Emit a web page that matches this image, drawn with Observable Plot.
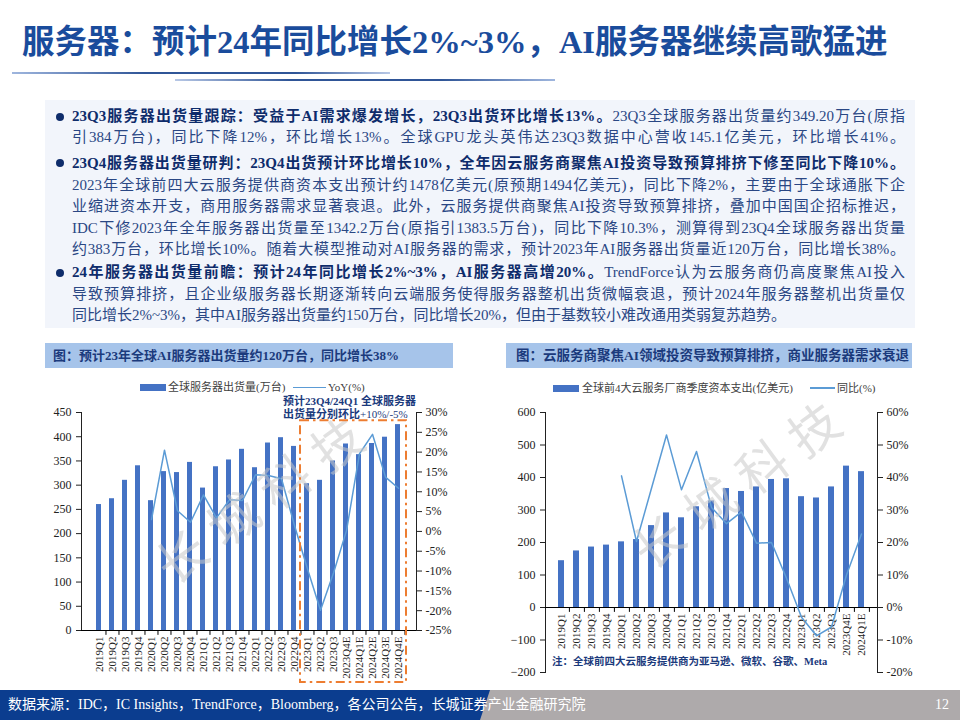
<!DOCTYPE html>
<html><head><meta charset="utf-8">
<script src="https://cdn.jsdelivr.net/npm/d3@7"></script>
<script src="https://cdn.jsdelivr.net/npm/@observablehq/plot@0.6"></script>
<style>
body{margin:0;width:960px;height:720px;position:relative;overflow:hidden;background:#fff;font-family:"Liberation Serif","Noto Sans CJK SC",serif;}
.abs{position:absolute;}
#title{left:22px;top:20px;font-size:32.5px;font-weight:700;color:#1a4c9c;white-space:nowrap;line-height:44px;}
.hl{height:2px;}
#box{left:45px;top:100px;width:870px;height:228px;background:#f2f5fb;}
.ln{position:absolute;left:72px;width:833px;font-size:15px;line-height:21px;height:21px;color:#2a4784;text-align:justify;text-align-last:justify;}
.ln b{color:#0e2c6b;}
.dot{position:absolute;left:56px;width:8px;height:8px;border-radius:50%;background:#0e2c6b;}
.ctitle{height:25px;background:#a6c4ea;font-size:13px;font-weight:700;color:#1b3a7c;line-height:25px;white-space:nowrap;box-sizing:border-box;}
.leg{font-size:11px;color:#404040;white-space:nowrap;line-height:14px;}
.wm{font-family:"Noto Sans CJK SC";font-size:50px;color:rgba(200,200,200,0.55);letter-spacing:14px;white-space:nowrap;transform:rotate(-36deg);transform-origin:center;pointer-events:none;}
</style></head>
<body>
<div id="title" class="abs">服务器：预计24年同比增长2%~3%，AI服务器继续高歌猛进</div>
<div class="abs hl" style="left:12px;top:72px;width:378px;background:linear-gradient(to right,#9fb6de,#2f5597 35%,#2f5597 75%,#b8c8e6);"></div>
<div class="abs hl" style="left:175px;top:79px;width:380px;background:linear-gradient(to right,#b8c8e6,#2f5597 30%,#2f5597 70%,#9fb6de);"></div>

<div id="box" class="abs"></div>
<div id="textlines"></div>

<div class="abs ctitle" style="left:45px;top:343px;width:408px;padding-left:8px;">图：预计23年全球AI服务器出货量约120万台，同比增长38%</div>
<div class="abs ctitle" style="left:506px;top:343px;width:406px;padding-left:10px;font-size:13.5px;">图：云服务商聚焦AI领域投资导致预算排挤，商业服务器需求衰退</div>

<div class="abs" style="left:140px;top:384px;width:26px;height:7px;background:#4472c4;"></div>
<div class="abs leg" style="left:168px;top:380px;">全球服务器出货量(万台)</div>
<div class="abs" style="left:293px;top:386.5px;width:33px;height:1.5px;background:#5b9bd5;"></div>
<div class="abs leg" style="left:328px;top:380px;">YoY(%)</div>

<div class="abs" style="left:553px;top:384.5px;width:26px;height:7px;background:#4472c4;"></div>
<div class="abs leg" style="left:582px;top:381px;">全球前4大云服务厂商季度资本支出(亿美元)</div>
<div class="abs" style="left:810px;top:387px;width:25px;height:1.5px;background:#5b9bd5;"></div>
<div class="abs leg" style="left:837px;top:381px;">同比(%)</div>

<div id="c1bar" class="abs" style="left:30px;top:400px;"></div>
<div id="c1line" class="abs" style="left:30px;top:400px;"></div>
<div id="c2bar" class="abs" style="left:495px;top:400px;"></div>
<div id="c2line" class="abs" style="left:495px;top:400px;"></div>

<div class="abs" style="left:283px;top:395px;font-size:11px;font-weight:700;color:#1b3a7c;line-height:12.5px;white-space:nowrap;">预计23Q4/24Q1 全球服务器<br>出货量分别环比<span style="font-weight:400;">+10%/-5%</span></div>
<div class="abs" style="left:552px;top:655px;font-size:10.5px;font-weight:700;color:#1b3a7c;white-space:nowrap;line-height:14px;">注：全球前四大云服务提供商为亚马逊、微软、谷歌、Meta</div>

<div class="abs wm" style="left:135px;top:458px;">长城科技</div>
<div class="abs wm" style="left:612px;top:443px;">长城科技</div>

<svg id="anno" class="abs" style="left:0;top:0;pointer-events:none;" width="960" height="720"></svg>

<div class="abs" style="left:0;top:690px;width:960px;height:30px;background:#aeaaab;"></div>
<div class="abs" style="left:0;top:690px;width:960px;height:30px;background:#0b3d8f;clip-path:polygon(0 0,490px 0,480px 100%,0 100%);"></div>
<div class="abs" style="left:8px;top:690px;line-height:30px;font-size:14px;color:#fff;white-space:nowrap;">数据来源：IDC，IC Insights，TrendForce，Bloomberg，各公司公告，长城证券产业金融研究院</div>
<div class="abs" style="left:935px;top:690px;line-height:30px;font-size:14px;color:#fff;">12</div>

<script>
// ---------- data ----------
const shipCats = ["2019Q1","2019Q2","2019Q3","2019Q4","2020Q1","2020Q2","2020Q3","2020Q4","2021Q1","2021Q2","2021Q3","2021Q4","2022Q1","2022Q2","2022Q3","2022Q4","2023Q1","2023Q2","2023Q3","2023Q4E","2024Q1E","2024Q2E","2024Q3E","2024Q4E"];
const shipments = [260,272,310,340,268,328,326,347,294,338,352,374,336,387,398,380,303,310,350,385,363,386,399,425];
const shipYoY = [null,null,null,null,3.0,20.5,5.2,2.3,9.2,3.4,8.0,7.8,14.3,14.1,13.3,1.5,-9.5,-19.9,-10.5,0.2,19.6,24.5,13.7,10.9];
const shipTicks = [0,50,100,150,200,250,300,350,400,450];
const shipPctTicks = [-25,-20,-15,-10,-5,0,5,10,15,20,25,30];

const capexCats = ["2019Q1","2019Q2","2019Q3","2019Q4","2020Q1","2020Q2","2020Q3","2020Q4","2021Q1","2021Q2","2021Q3","2021Q4","2022Q1","2022Q2","2022Q3","2022Q4","2023Q1","2023Q2","2023Q3","2023Q4E","2024Q1E"];
const capex = [144,174,186,192,202,209,252,291,276,310,328,366,357,371,394,396,341,337,371,435,418];
const capexYoY = [null,null,null,null,40.5,20.3,36.7,53.1,36.2,48.0,30.8,25.8,29.4,19.8,20.0,9.0,-3.0,-8.7,-6.0,10.0,22.6];
const capexTicks = [-200,-100,0,100,200,300,400,500,600];
const capexPctTicks = [-20,-10,0,10,20,30,40,50,60];

const barColor = "#4472c4", lineColor = "#5b9bd5";
const baseStyle = {fontFamily:'"Liberation Serif", serif', fontSize:"12px", color:"#222", background:"transparent", overflow:"visible"};
const pct = d => d + "%";

// ---------- left chart ----------
const W1 = 440, H1 = 290, M1 = {marginTop:12, marginRight:54, marginBottom:60, marginLeft:51};
const step1 = (W1 - M1.marginLeft - M1.marginRight) / shipCats.length;
const x1 = {domain: shipCats, paddingInner: 0.6, paddingOuter: 0.3, axis: null};
const shipRows = shipCats.map((c, i) => ({c, v: shipments[i], p: shipYoY[i]}));

const bar1 = Plot.plot({
  width: W1, height: H1, ...M1, style: baseStyle,
  x: x1,
  y: {domain: [0, 450], ticks: shipTicks, tickSize: 5, tickPadding: 5, label: null, line: true},
  marks: [
    Plot.barY(shipRows, {x: "c", y: "v", fill: barColor}),
    Plot.ruleY([0], {stroke: "#000"}),
    Plot.ruleX(shipCats, {x: d => d, y1: 0, y2: -10, dx: step1 / 2, stroke: "#000"}),
    Plot.text(shipCats, {x: d => d, y: 0, text: d => d, rotate: -90, textAnchor: "end", dy: 6, fontSize: 11, fill: "#222"})
  ]
});
document.getElementById("c1bar").appendChild(bar1);

const line1 = Plot.plot({
  width: W1, height: H1, ...M1, style: baseStyle,
  x: x1,
  y: {domain: [-25, 30], ticks: shipPctTicks, tickFormat: pct, axis: "right", tickSize: 5, tickPadding: 4, label: null, line: true},
  marks: [
    Plot.line(shipRows, {x: "c", y: "p", stroke: lineColor, strokeWidth: 1.5})
  ]
});
document.getElementById("c1line").appendChild(line1);

// ---------- right chart ----------
const W2 = 420, H2 = 280, M2 = {marginTop:12, marginRight:38, marginBottom:8, marginLeft:50};
const step2 = (W2 - M2.marginLeft - M2.marginRight) / capexCats.length;
const x2 = {domain: capexCats, paddingInner: 0.62, paddingOuter: 0.31, axis: null};
const capexRows = capexCats.map((c, i) => ({c, v: capex[i], p: capexYoY[i]}));

const bar2 = Plot.plot({
  width: W2, height: H2, ...M2, style: baseStyle,
  x: x2,
  y: {domain: [-200, 600], ticks: capexTicks, tickSize: 5, tickPadding: 5, label: null, line: true},
  marks: [
    Plot.barY(capexRows, {x: "c", y: "v", fill: barColor}),
    Plot.ruleY([0], {stroke: "#000"}),
    Plot.ruleX(capexCats, {x: d => d, y1: 0, y2: -15, dx: step2 / 2, stroke: "#000"}),
    Plot.text(capexCats, {x: d => d, y: 0, text: d => d, rotate: -90, textAnchor: "end", dy: 6, fontSize: 11, fill: "#222"})
  ]
});
document.getElementById("c2bar").appendChild(bar2);

const line2 = Plot.plot({
  width: W2, height: H2, ...M2, style: baseStyle,
  x: x2,
  y: {domain: [-20, 60], ticks: capexPctTicks, tickFormat: pct, axis: "right", tickSize: 5, tickPadding: 4, label: null, line: true},
  marks: [
    Plot.line(capexRows, {x: "c", y: "p", stroke: lineColor, strokeWidth: 1.5})
  ]
});
document.getElementById("c2line").appendChild(line2);

// ---------- dashed forecast box (from the left chart's scales) ----------
{
  const sx = bar1.scale("x"), sy = bar1.scale("y");
  const bw = sx.bandwidth;
  const st = sx.apply(shipCats[1]) - sx.apply(shipCats[0]);
  const gap = (st - bw) / 2;
  const left = 30 + sx.apply("2023Q1") - gap;
  const right = 30 + sx.apply("2024Q4E") + bw + gap + 2;
  const top = 400 + sy.apply(433);
  const bottom = 400 + H1 - 8;
  d3.select("#anno").append("rect")
    .attr("x", left).attr("y", top).attr("width", right - left).attr("height", bottom - top)
    .attr("fill", "none").attr("stroke", "#ed7d31").attr("stroke-width", 2)
    .attr("stroke-dasharray", "9,4,2.5,4");
}

// ---------- text block ----------
const lines = [
  {y:116.7, dot:true, html:'<b>23Q3服务器出货量跟踪：受益于AI需求爆发增长，23Q3出货环比增长13%。</b>23Q3全球服务器出货量约349.20万台(原指'},
  {y:137.7, html:'引384万台)，同比下降12%，环比增长13%。全球GPU龙头英伟达23Q3数据中心营收145.1亿美元，环比增长41%。'},
  {y:163.3, dot:true, html:'<b>23Q4服务器出货量研判：23Q4出货预计环比增长10%，全年因云服务商聚焦AI投资导致预算排挤下修至同比下降10%。</b>'},
  {y:185.3, html:'2023年全球前四大云服务提供商资本支出预计约1478亿美元(原预期1494亿美元)，同比下降2%，主要由于全球通胀下企'},
  {y:206.7, html:'业缩进资本开支，商用服务器需求显著衰退。此外，云服务提供商聚焦AI投资导致预算排挤，叠加中国国企招标推迟，'},
  {y:228.0, html:'IDC下修2023年全年服务器出货量至1342.2万台(原指引1383.5万台)，同比下降10.3%，测算得到23Q4全球服务器出货量'},
  {y:249.7, html:'约383万台，环比增长10%。随着大模型推动对AI服务器的需求，预计2023年AI服务器出货量近120万台，同比增长38%。'},
  {y:272.7, dot:true, html:'<b>24年服务器出货量前瞻：预计24年同比增长2%~3%，AI服务器高增20%。</b>TrendForce认为云服务商仍高度聚焦AI投入'},
  {y:294.0, html:'导致预算排挤，且企业级服务器长期逐渐转向云端服务使得服务器整机出货微幅衰退，预计2024年服务器整机出货量仅'},
  {y:315.0, last:true, html:'同比增长2%~3%，其中AI服务器出货量约150万台，同比增长20%，但由于基数较小难改通用类弱复苏趋势。'}
];
const tl = document.getElementById("textlines");
lines.forEach(l => {
  const d = document.createElement("div");
  d.className = "ln";
  d.style.top = (l.y - 10.5) + "px";
  if (l.last) d.style.textAlignLast = "left";
  d.innerHTML = l.html;
  tl.appendChild(d);
  if (l.dot) {
    const b = document.createElement("div");
    b.className = "dot";
    b.style.top = (l.y - 4) + "px";
    tl.appendChild(b);
  }
});
</script>
</body></html>
